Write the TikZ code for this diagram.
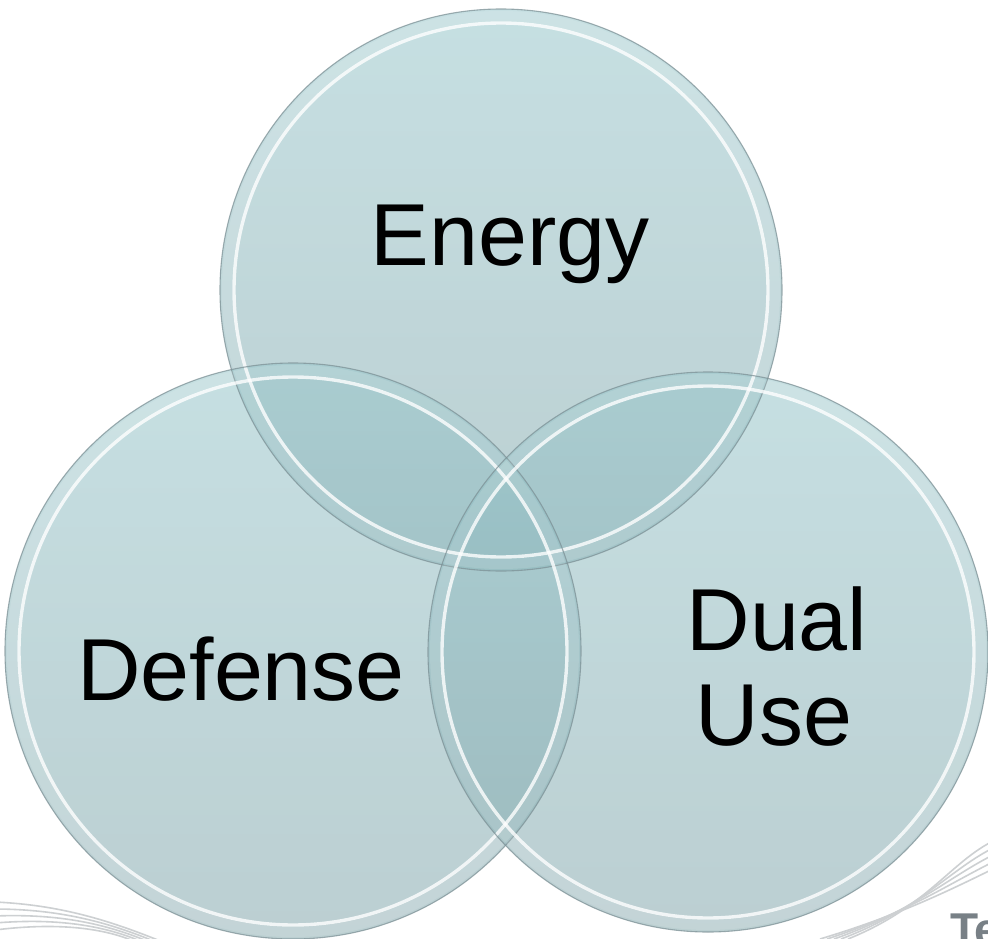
\documentclass[tikz,border=0pt]{standalone}
\usepackage{fontspec}
\setmainfont{Liberation Sans}
\definecolor{disc}{RGB}{152,198,203}
\definecolor{discbot}{RGB}{132,168,173}
\definecolor{rimdark}{RGB}{125,145,150}
\definecolor{swoosh}{RGB}{205,208,210}
\definecolor{logo}{RGB}{120,128,134}
\tikzset{
  discfill/.style={top color=disc, bottom color=discbot, fill opacity=0.55, draw=none},
  rimouter/.style={draw=rimdark, line width=1.1pt, draw opacity=0.75},
  rimband/.style={draw=white, line width=10pt, draw opacity=0.12},
  rimhi/.style={draw=white, line width=3.4pt, draw opacity=0.8},
  label/.style={font=\fontsize{88}{95}\selectfont, text=black, inner sep=0pt, anchor=base},
  swline/.style={draw=swoosh, line width=1.6pt}
}
\begin{document}
\begin{tikzpicture}[x=1pt,y=1pt]
\useasboundingbox (0,0) rectangle (988,-939);
\clip (0,0) rectangle (988,-939);
\fill[white] (0,0) rectangle (988,-939);
% background swooshes
\foreach \d in {0,7,14,21,28}{
  \draw[swline] (820+\d,-939) .. controls (900+\d,-915+\d*0.3) and (950,-890+\d) .. (995,-868+\d);
  \draw[swline] (-5,-902-\d) .. controls (60,-905-\d*0.6) and (110,-920-\d*0.3) .. (170-\d,-945);
}
\node[font=\fontsize{46}{46}\selectfont\bfseries, text=logo, anchor=base west, inner sep=0pt] (logo) at (950,-945) {Te};
% circle centres
\coordinate (cE) at (501,-290);
\coordinate (cD) at (293,-651);
\coordinate (cU) at (708,-652);
% fills
\path[discfill] (cE) circle (281);
\path[discfill] (cD) circle (288);
\path[discfill] (cU) circle (280);
% rims
\foreach \c/\r in {cE/281,cD/288,cU/280}{
  \path[rimband] (\c) circle (\r-7);
  \path[rimhi] (\c) circle (\r-14);
  \path[rimouter] (\c) circle (\r);
}
% labels
\node[label] (energy) at (510,-265) {Energy};
\node[label] (defense) at (241,-700) {Defense};
\node[label] (dual) at (777,-650) {Dual};
\node[label] (use) at (774,-745) {Use};
\end{tikzpicture}
\end{document}
